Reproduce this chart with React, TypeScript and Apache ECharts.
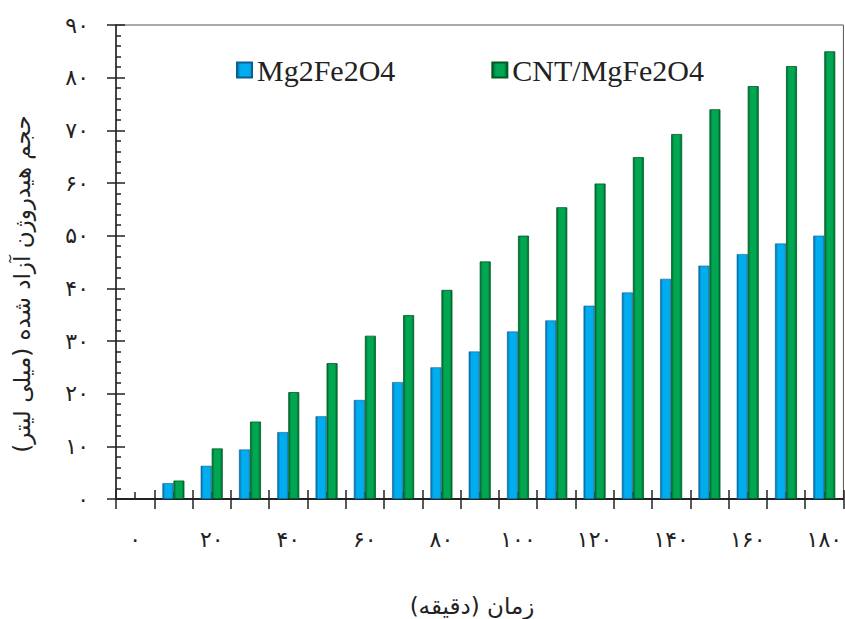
import React, { useEffect, useRef } from "react";
import * as echarts from "echarts";

// Reaction time (minutes), written with Persian digits
const minutes = ["۰", "۱۰", "۲۰", "۳۰", "۴۰", "۵۰", "۶۰", "۷۰", "۸۰", "۹۰", "۱۰۰", "۱۱۰", "۱۲۰", "۱۳۰", "۱۴۰", "۱۵۰", "۱۶۰", "۱۷۰", "۱۸۰"];

// Released hydrogen volume (mL)
const mgFe2O4 = [null, 3.0, 6.3, 9.4, 12.7, 15.7, 18.8, 22.2, 25.0, 28.0, 31.8, 33.9, 36.7, 39.2, 41.8, 44.3, 46.5, 48.5, 50.0];
const cntMgFe2O4 = [null, 3.5, 9.6, 14.7, 20.3, 25.8, 31.0, 34.9, 39.7, 45.1, 50.0, 55.4, 59.9, 64.9, 69.3, 74.0, 78.4, 82.2, 85.0];

const seriesNames = ["Mg2Fe2O4", "CNT/MgFe2O4"];
const yTitle = "حجم هیدروژن آزاد شده (میلی لیتر)";
const xTitle = "زمان (دقیقه)";

const persianDigits = ["۰", "۱", "۲", "۳", "۴", "۵", "۶", "۷", "۸", "۹"];
const toPersian = (v: number | string) =>
  String(v).replace(/[0-9]/g, (d) => persianDigits[Number(d)]);

const faFont = "'DejaVu Sans', 'Noto Sans', sans-serif";
const axisColor = "#222";

const blueFill = new echarts.graphic.LinearGradient(0, 0, 1, 0, [
  { offset: 0, color: "#0a6aa6" },
  { offset: 0.25, color: "#00aeef" },
  { offset: 0.8, color: "#00aeef" },
  { offset: 1, color: "#1a8fc8" },
]);
const greenFill = new echarts.graphic.LinearGradient(0, 0, 1, 0, [
  { offset: 0, color: "#006a2e" },
  { offset: 0.25, color: "#00a651" },
  { offset: 0.75, color: "#00a651" },
  { offset: 1, color: "#006a2e" },
]);

export default function App() {
  const ref = useRef<HTMLDivElement>(null);

  useEffect(() => {
    document.body.style.margin = "0";
    if (!ref.current) return;
    const chart = echarts.init(ref.current, null, { renderer: "svg" });

    const baseX = {
      type: "category" as const,
      data: minutes,
      position: "bottom" as const,
      boundaryGap: true,
      axisLine: { show: true, lineStyle: { color: axisColor, width: 1.5 } },
      splitLine: { show: false },
    };

    chart.setOption({
      animation: false,
      backgroundColor: "#ffffff",
      grid: {
        left: 116,
        right: 1,
        top: 25,
        bottom: 120,
        show: true,
        borderColor: "#555",
        borderWidth: 1,
        containLabel: false,
      },
      legend: {
        left: 231,
        top: 50,
        itemWidth: 15,
        itemHeight: 15,
        itemGap: 96,
        icon: "rect",
        textStyle: {
          fontFamily: "'Liberation Serif', 'Times New Roman', serif",
          fontSize: 30,
          color: "#222",
        },
        data: seriesNames,
      },
      xAxis: [
        {
          ...baseX,
          axisTick: { show: true, inside: true, length: 9, interval: 0, lineStyle: { color: axisColor, width: 1.5 } },
          axisLabel: {
            interval: 1,
            margin: 29,
            fontFamily: faFont,
            fontSize: 22,
            color: axisColor,
          },
        },
        {
          ...baseX,
          axisTick: { show: true, inside: false, length: 10, interval: 0, lineStyle: { color: axisColor, width: 1.5 } },
          axisLabel: { show: false },
        },
        {
          ...baseX,
          axisTick: {
            show: true,
            inside: true,
            alignWithLabel: true,
            length: 7,
            interval: 0,
            lineStyle: { color: axisColor, width: 1.5 },
          },
          axisLabel: { show: false },
        },
      ],
      yAxis: [
        {
          type: "value",
          position: "left",
          min: 0,
          max: 90,
          interval: 10,
          axisLine: { show: true, lineStyle: { color: axisColor, width: 1.5 } },
          axisTick: { show: true, inside: true, length: 9, lineStyle: { color: axisColor, width: 1.5 } },
          minorTick: { show: true, splitNumber: 5, length: 5, lineStyle: { color: axisColor, width: 1.5 } },
          splitLine: { show: false },
          axisLabel: {
            margin: 27,
            fontFamily: faFont,
            fontSize: 22,
            color: axisColor,
            formatter: (v: number) => toPersian(v),
          },
        },
        {
          type: "value",
          position: "left",
          offset: 0,
          min: 0,
          max: 90,
          interval: 10,
          axisLine: { show: false },
          axisTick: { show: true, inside: false, length: 9, lineStyle: { color: axisColor, width: 1.5 } },
          splitLine: { show: false },
          axisLabel: { show: false },
        },
      ],
      series: [
        {
          name: seriesNames[0],
          type: "bar",
          data: mgFe2O4,
          barWidth: 11,
          barGap: "0%",
          itemStyle: { color: blueFill, borderColor: "#0b5f94", borderWidth: 0.6 },
        },
        {
          name: seriesNames[1],
          type: "bar",
          data: cntMgFe2O4,
          barWidth: 11,
          barGap: "0%",
          itemStyle: { color: greenFill, borderColor: "#005a24", borderWidth: 0.8 },
        },
      ],
      graphic: [
        {
          type: "text",
          x: 22,
          y: 284,
          rotation: Math.PI / 2,
          style: {
            text: yTitle,
            fontFamily: faFont,
            fontSize: 23,
            fill: axisColor,
            textAlign: "center",
            textVerticalAlign: "middle",
          },
        },
        {
          type: "text",
          x: 472,
          y: 606,
          style: {
            text: xTitle,
            fontFamily: faFont,
            fontSize: 23,
            fill: axisColor,
            textAlign: "center",
            textVerticalAlign: "middle",
          },
        },
      ],
    });

    return () => chart.dispose();
  }, []);

  return <div ref={ref} style={{ width: 845, height: 619 }} />;
}
